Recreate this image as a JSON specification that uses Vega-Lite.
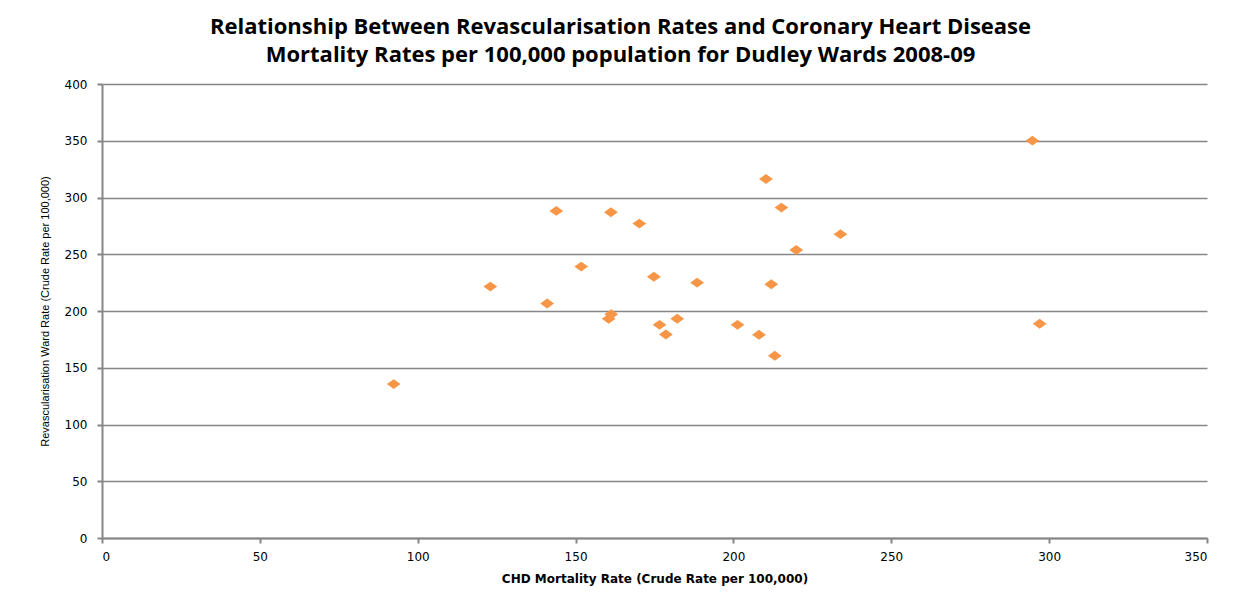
{
  "$schema": "https://vega.github.io/schema/vega-lite/v6.json",
  "autosize": "none",
  "width": 1105,
  "height": 454,
  "padding": {"left": 102, "top": 84, "right": 27, "bottom": 67},
  "background": "white",
  "config": {"view": {"stroke": null}},
  "title": {
    "text": ["Relationship Between Revascularisation Rates and Coronary Heart Disease", "Mortality Rates per 100,000 population for Dudley Wards 2008-09"],
    "font": "Open Sans",
    "fontSize": 22,
    "fontWeight": "bold",
    "color": "#000000",
    "lineHeight": 28,
    "anchor": "middle",
    "frame": "group",
    "dx": -34,
    "offset": 11
  },
  "data": {
    "values": [
      {"chd": 92.4, "revasc": 135.6},
      {"chd": 123.0, "revasc": 221.5},
      {"chd": 141.0, "revasc": 206.6},
      {"chd": 143.9, "revasc": 288.2},
      {"chd": 151.8, "revasc": 239.1},
      {"chd": 160.5, "revasc": 193.1},
      {"chd": 161.3, "revasc": 197.2},
      {"chd": 161.2, "revasc": 287.0},
      {"chd": 170.2, "revasc": 277.0},
      {"chd": 174.8, "revasc": 230.1},
      {"chd": 176.6, "revasc": 187.8},
      {"chd": 178.6, "revasc": 179.3},
      {"chd": 182.2, "revasc": 193.1},
      {"chd": 188.5, "revasc": 225.0},
      {"chd": 201.3, "revasc": 187.8},
      {"chd": 208.1, "revasc": 179.0},
      {"chd": 210.3, "revasc": 316.3},
      {"chd": 212.0, "revasc": 223.6},
      {"chd": 213.1, "revasc": 160.5},
      {"chd": 215.2, "revasc": 291.1},
      {"chd": 219.9, "revasc": 253.8},
      {"chd": 233.9, "revasc": 267.7},
      {"chd": 294.7, "revasc": 350.1},
      {"chd": 297.0, "revasc": 188.7}
    ]
  },
  "mark": {
    "type": "point",
    "shape": "M-1,0L0,-0.72L1,0L0,0.72Z",
    "filled": true,
    "opacity": 1,
    "color": "#F79646",
    "size": 190
  },
  "encoding": {
    "x": {
      "field": "chd",
      "type": "quantitative",
      "scale": {"domain": [0, 350], "nice": false, "zero": true},
      "axis": {
        "title": "CHD Mortality Rate (Crude Rate per 100,000)",
        "values": [0, 50, 100, 150, 200, 250, 300, 350],
        "grid": false,
        "domainColor": "#868686",
        "domainWidth": 2,
        "tickColor": "#868686",
        "tickWidth": 2,
        "tickSize": 5,
        "labelFont": "DejaVu Sans",
        "labelFontSize": 12,
        "labelColor": "#000000",
        "labelPadding": 8,
        "titleFont": "DejaVu Sans",
        "titleFontSize": 12,
        "titleFontWeight": "bold",
        "titleColor": "#000000",
        "titlePadding": 11
      }
    },
    "y": {
      "field": "revasc",
      "type": "quantitative",
      "scale": {"domain": [0, 400], "nice": false, "zero": true},
      "axis": {
        "title": "Revascularisation  Ward Rate (Crude Rate per 100,000)",
        "values": [0, 50, 100, 150, 200, 250, 300, 350, 400],
        "grid": true,
        "gridColor": "#868686",
        "gridWidth": 1.6,
        "domainColor": "#868686",
        "domainWidth": 2,
        "tickColor": "#868686",
        "tickWidth": 2,
        "tickSize": 5,
        "labelFont": "DejaVu Sans",
        "labelFontSize": 12,
        "labelColor": "#000000",
        "labelPadding": 10,
        "titleFont": "Liberation Sans",
        "titleFontSize": 11,
        "titleFontWeight": "normal",
        "titleColor": "#000000",
        "titlePadding": 14
      }
    }
  }
}
